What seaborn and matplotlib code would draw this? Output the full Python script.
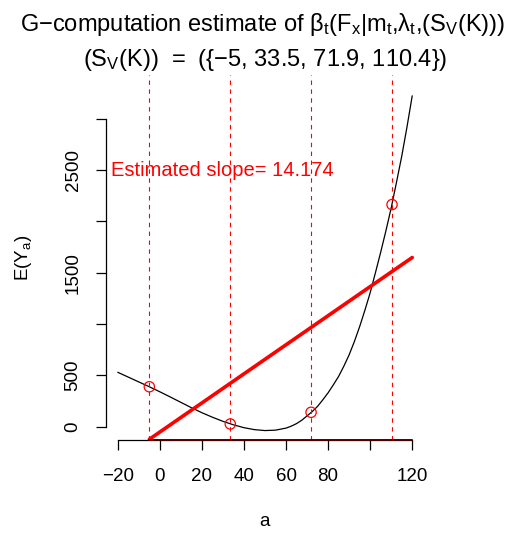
import numpy as np
import pandas as pd
import seaborn as sns
import matplotlib.pyplot as plt

# fitted curve E(Y_a)
a_grid = [-20, -15, -10, -5, 0, 5, 10, 15, 20, 25, 30, 35, 40, 45, 50, 55, 60,
          62.5, 65, 67.5, 70, 72.5, 75, 77.5, 80, 82.5, 85, 87.5, 90, 92.5, 95,
          97.5, 100, 102.5, 105, 107.5, 110, 112.5, 115, 117.5, 120]
ey_grid = [530, 483, 436, 389, 340, 289, 237, 185, 136, 92, 52, 18, -10, -29,
           -38, -34, -14, 5, 30, 63, 105, 148, 198, 262, 330, 408, 490, 590,
           700, 830, 975, 1135, 1305, 1500, 1700, 1910, 2132, 2380, 2635, 2920,
           3225]

# support points S_V(K)
knots = [-5, 33.5, 71.9, 110.4]
knot_ey = [389, 26, 140, 2165]

# estimated slope line
slope = 14.174
line_a = [-5, 120]
line_y0 = -123

x_ticks = [-20, 0, 20, 40, 60, 80, 100, 120]
x_labels = ['\u221220', '0', '20', '40', '60', '80', '', '120']
y_ticks = [0, 500, 1000, 1500, 2000, 2500, 3000]
y_labels = ['0', '500', '', '1500', '', '2500', '']

curve = pd.DataFrame({'a': a_grid, 'EY': ey_grid})
pts = pd.DataFrame({'a': knots, 'EY': knot_ey})
slope_df = pd.DataFrame({'a': line_a,
                         'EY': [line_y0 + slope * (v - line_a[0]) for v in line_a]})

sns.set_style("ticks")
plt.rcParams['font.family'] = ['Liberation Sans', 'DejaVu Sans']
plt.rcParams['mathtext.fontset'] = 'custom'
plt.rcParams['mathtext.rm'] = 'Liberation Sans'
plt.rcParams['mathtext.it'] = 'Liberation Sans'
plt.rcParams['mathtext.default'] = 'regular'
plt.rcParams['text.color'] = 'black'
plt.rcParams['axes.labelcolor'] = 'black'
plt.rcParams['xtick.color'] = 'black'
plt.rcParams['ytick.color'] = 'black'
plt.rcParams['axes.edgecolor'] = 'black'

W, H = 518, 534
fig = plt.figure(figsize=(W / 100, H / 100), dpi=100)
ax = fig.add_axes([106 / W, (H - 440) / H, (424 - 106) / W, (440 - 75) / H])

sns.lineplot(data=curve, x='a', y='EY', ax=ax, color='black', lw=0.9)
for k in knots:
    ax.axvline(k, color='red', lw=0.8, ls=(0, (4, 4)))
sns.lineplot(data=slope_df, x='a', y='EY', ax=ax, color='red', lw=2.6)
sns.scatterplot(data=pts, x='a', y='EY', ax=ax, s=55, marker='o',
                facecolor='none', edgecolor='red', linewidth=0.9, zorder=5)

ax.set_xlim(-25.6, 125.6)
ax.set_ylim(-130, 3428)

sns.despine(ax=ax)
ax.spines['left'].set_bounds(0, 3000)
ax.spines['bottom'].set_bounds(-20, 120)
ax.spines['left'].set_linewidth(0.9)
ax.spines['bottom'].set_linewidth(0.9)
ax.plot([-5, 120], [-130, -130], color='#500000', lw=1.4, clip_on=False, zorder=6)

ax.set_xticks(x_ticks)
ax.set_xticklabels(x_labels)
ax.set_yticks(y_ticks)
ax.set_yticklabels(y_labels, rotation=90, va='center')
ax.tick_params(axis='both', length=7.5, width=0.9, labelsize=13.5,
               color='black', labelcolor='black')
ax.tick_params(axis='x', pad=13)
ax.tick_params(axis='y', pad=10)
ax.set_xlabel('')
ax.set_ylabel('')

ax.text(-23, 2500, 'Estimated slope= 14.174', color='red', fontsize=14.5,
        va='center', ha='left')

fig.text(263 / W, 1 - 25 / H,
         'G\u2212computation estimate of \u03b2$_t$(F$_x$|m$_t$,\u03bb$_t$,(S$_V$(K)))',
         ha='center', va='center', fontsize=17, color='black')
fig.text(265 / W, 1 - 60 / H,
         '(S$_V$(K))  =  ({\u22125, 33.5, 71.9, 110.4})',
         ha='center', va='center', fontsize=17, color='black')
fig.text(24 / W, 1 - 258 / H, 'E(Y$_a$)', rotation=90, ha='center', va='center',
         fontsize=13.5, color='black')
fig.text(265 / W, 1 - 522 / H, 'a', ha='center', va='center', fontsize=13.5,
         color='black')

fig.savefig('out.png', dpi=100)
